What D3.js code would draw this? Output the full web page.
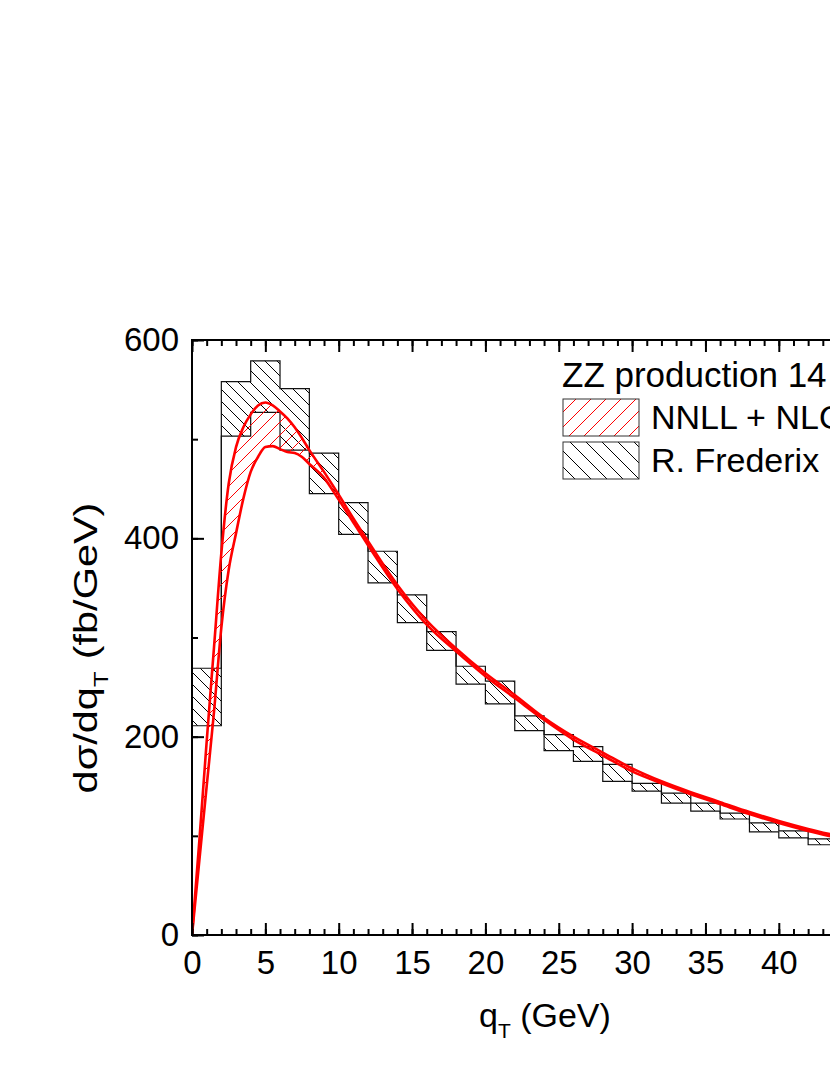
<!DOCTYPE html>
<html>
<head>
<meta charset="utf-8">
<script src="https://cdn.jsdelivr.net/npm/d3@7"></script>
<style>
  body { margin: 0; background: #fff; }
  svg { display: block; font-family: "Liberation Sans", Arial, sans-serif; }
</style>
</head>
<body>
<div class="chart"></div>
<script>
// R. Frederix histogram band, 2 GeV bins (lower / upper edge of each bin)
var binEdges = [0, 2, 4, 6, 8, 10, 12, 14, 16, 18, 20, 22, 24, 26, 28, 30, 32, 34, 36, 38, 40, 42, 44];
var fredLow  = [211, 503, 527, 489, 445, 404, 355, 315, 287, 253, 233, 206, 186, 175, 155, 145, 133, 125, 117, 104, 98, 91];
var fredHigh = [269, 558, 579, 551, 486, 436, 387, 343, 306, 271, 256, 221, 202, 190, 172, 153, 143, 133, 123, 113, 105, 97];

// NNLL + NLO band
var qGrid   = [0, 0.5, 1, 1.5, 2, 2.5, 3, 3.5, 4, 4.5, 5, 5.5, 6, 6.5, 7, 7.5, 8, 9, 10, 11, 12, 14, 16, 18, 20, 22, 24, 26, 28, 30, 32, 34, 36, 38, 40, 42, 44];
var nnllHigh = [0, 95, 195, 290, 385, 455, 492, 512, 525, 534, 537, 534, 528, 521, 512, 501, 489, 467, 444, 420, 397, 353, 317, 289, 264, 242, 219, 200, 184, 168, 155, 144, 134, 124, 115, 107, 100];
var nnllLow  = [0, 75, 150, 225, 310, 368, 405, 440, 467, 482, 492, 493, 490, 487, 486, 482, 475, 461, 439, 416, 393, 349, 313, 286, 261, 239, 217, 197, 181, 165, 153, 142, 132, 122, 113, 105, 98];

var xMajor = [0, 5, 10, 15, 20, 25, 30, 35, 40, 45, 50];
var xMinor = d3.range(0, 51, 1);
var yMajor = [0, 200, 400, 600];
var yMinor = [0, 100, 200, 300, 400, 500, 600];

var legendTitle = "ZZ production 14 TeV";
var legendLabels = ["NNLL + NLO", "R. Frederix"];

var width = 830, height = 1075;
var plot = {left: 192, top: 340, bottom: 935, right: 192 + 50 * 14.67};

var x = d3.scaleLinear().domain([0, 50]).range([plot.left, plot.right]);
var y = d3.scaleLinear().domain([0, 600]).range([plot.bottom, plot.top]);

const svg = d3.select(".chart").append("svg")
    .attr("width", width)
    .attr("height", height);

var defs = svg.append("defs");

// diagonal hatch pattern, back = "\" direction
function hatch(id, color, s, back) {
  var d = back
    ? `M-1,${s - 1} l2,2 M0,0 l${s},${s} M${s - 1},-1 l2,2`
    : `M-1,1 l2,-2 M0,${s} l${s},${-s} M${s - 1},${s + 1} l2,-2`;
  defs.append("pattern")
    .attr("id", id)
    .attr("patternUnits", "userSpaceOnUse")
    .attr("width", s)
    .attr("height", s)
    .append("path")
    .attr("d", d)
    .attr("stroke", color)
    .attr("stroke-width", 1)
    .attr("fill", "none");
}
hatch("hatchBlack", "#000", 12, true);
hatch("hatchRed", "#ff0000", 13, false);
hatch("hatchBlackLeg", "#000", 16, true);
hatch("hatchRedLeg", "#ff0000", 15, false);

defs.append("clipPath").attr("id", "plotClip")
  .append("rect")
  .attr("x", plot.left)
  .attr("y", plot.top)
  .attr("width", plot.right - plot.left)
  .attr("height", plot.bottom - plot.top);

var g = svg.append("g").attr("clip-path", "url(#plotClip)");

// histogram band as two step curves
var steps = binEdges.map((e, i) => {
  var j = Math.min(i, fredLow.length - 1);
  return {q: e, lo: fredLow[j], hi: fredHigh[j]};
});

g.append("path")
  .datum(steps)
  .attr("fill", "url(#hatchBlack)")
  .attr("d", d3.area().curve(d3.curveStepAfter)
    .x(d => x(d.q)).y0(d => y(d.lo)).y1(d => y(d.hi)));

["lo", "hi"].forEach(k => {
  g.append("path")
    .datum(steps)
    .attr("fill", "none")
    .attr("stroke", "#111")
    .attr("stroke-width", 1.2)
    .attr("d", d3.line().curve(d3.curveStepAfter).x(d => x(d.q)).y(d => y(d[k])));
});

// NNLL band
var band = qGrid.map((q, i) => ({q: q, lo: nnllLow[i], hi: nnllHigh[i]}));

g.append("path")
  .datum(band)
  .attr("fill", "url(#hatchRed)")
  .attr("d", d3.area().curve(d3.curveMonotoneX)
    .x(d => x(d.q)).y0(d => y(d.lo)).y1(d => y(d.hi)));

["lo", "hi"].forEach(k => {
  g.append("path")
    .datum(band)
    .attr("fill", "none")
    .attr("stroke", "#ff0000")
    .attr("stroke-width", 2.6)
    .attr("stroke-linejoin", "round")
    .attr("d", d3.line().curve(d3.curveMonotoneX).x(d => x(d.q)).y(d => y(d[k])));
});

// axes, ticks pointing inward
function styleAxis(sel) {
  sel.select(".domain").remove();
  sel.selectAll(".tick line").attr("stroke", "#000").attr("stroke-width", 2);
  sel.selectAll("text")
    .attr("fill", "#000")
    .attr("font-size", 33)
    .attr("font-family", "Liberation Sans, Arial, sans-serif");
}

// only label the ticks that land inside the picture
var xLabel = d => (x(d) + 20 < width ? d : "");

svg.append("g")
  .attr("transform", `translate(0,${plot.bottom})`)
  .call(d3.axisBottom(x).tickValues(xMinor).tickSize(-6).tickFormat(""))
  .call(styleAxis);
svg.append("g")
  .attr("transform", `translate(0,${plot.bottom})`)
  .call(d3.axisBottom(x).tickValues(xMajor).tickSize(-12).tickPadding(16).tickFormat(xLabel))
  .call(styleAxis);

svg.append("g")
  .attr("transform", `translate(0,${plot.top})`)
  .call(d3.axisTop(x).tickValues(xMinor).tickSize(-6).tickFormat(""))
  .call(styleAxis);
svg.append("g")
  .attr("transform", `translate(0,${plot.top})`)
  .call(d3.axisTop(x).tickValues(xMajor).tickSize(-12).tickFormat(""))
  .call(styleAxis);

svg.append("g")
  .attr("transform", `translate(${plot.left},0)`)
  .call(d3.axisLeft(y).tickValues(yMinor).tickSize(-6).tickFormat(""))
  .call(styleAxis);
svg.append("g")
  .attr("transform", `translate(${plot.left},0)`)
  .call(d3.axisLeft(y).tickValues(yMajor).tickSize(-12).tickPadding(13).tickFormat(d3.format("d")))
  .call(styleAxis);

// frame
svg.append("rect")
  .attr("x", plot.left)
  .attr("y", plot.top)
  .attr("width", plot.right - plot.left)
  .attr("height", plot.bottom - plot.top)
  .attr("fill", "none")
  .attr("stroke", "#000")
  .attr("stroke-width", 2);

// axis titles
var xt = svg.append("text")
  .attr("x", 479)
  .attr("y", 1027)
  .attr("font-size", 34)
  .attr("fill", "#000");
xt.append("tspan").text("q");
xt.append("tspan").attr("font-size", 21).attr("dy", 11).text("T");
xt.append("tspan").attr("dy", -11).text(" (GeV)");

// y title is drawn a bit stretched along its length, as in the original
var yt = svg.append("text")
  .attr("transform", "translate(97,648) rotate(-90) scale(1.22,1)")
  .attr("text-anchor", "middle")
  .attr("font-size", 34)
  .attr("fill", "#000");
yt.append("tspan").text("d\u03c3/dq");
yt.append("tspan").attr("font-size", 21).attr("dy", 11).text("T");
yt.append("tspan").attr("dy", -11).attr("dx", 10).text("(fb/GeV)");

// legend
svg.append("text")
  .attr("x", 562)
  .attr("y", 387)
  .attr("font-size", 35)
  .attr("fill", "#000")
  .text(legendTitle);

var legFills = ["url(#hatchRedLeg)", "url(#hatchBlackLeg)"];
legendLabels.forEach((lab, i) => {
  var top = 399 + i * 43;
  svg.append("rect")
    .attr("x", 563)
    .attr("y", top)
    .attr("width", 76)
    .attr("height", 37)
    .attr("fill", legFills[i])
    .attr("stroke", "#333")
    .attr("stroke-width", 1);
  svg.append("text")
    .attr("x", 651)
    .attr("y", top + 30)
    .attr("font-size", 34)
    .attr("fill", "#000")
    .text(lab);
});
</script>
</body>
</html>
